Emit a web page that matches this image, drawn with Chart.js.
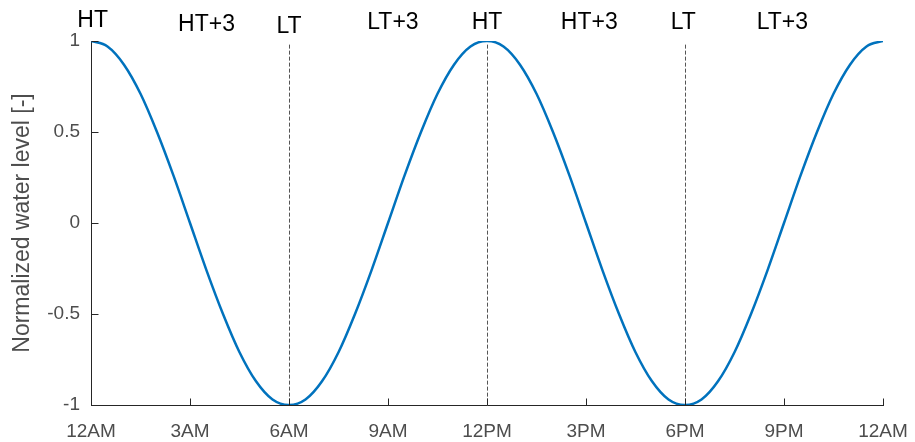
<!DOCTYPE html>
<html>
<head>
<meta charset="utf-8">
<script src="https://cdn.jsdelivr.net/npm/chart.js@4/dist/chart.umd.min.js"></script>
<style>
  html, body { margin: 0; padding: 0; background: #fff; }
  #wrap { width: 915px; height: 442px; position: relative; }
</style>
</head>
<body>
<div id="wrap"><canvas id="tideChart"></canvas></div>
<script>
// hours since midnight, half-hour steps
const hours = [
  0, 0.5, 1, 1.5, 2, 2.5, 3, 3.5, 4, 4.5, 5, 5.5,
  6, 6.5, 7, 7.5, 8, 8.5, 9, 9.5, 10, 10.5, 11, 11.5,
  12, 12.5, 13, 13.5, 14, 14.5, 15, 15.5, 16, 16.5, 17, 17.5,
  18, 18.5, 19, 19.5, 20, 20.5, 21, 21.5, 22, 22.5, 23, 23.5, 24
];
const waterLevel = [
  1.00, 0.97, 0.87, 0.71, 0.50, 0.26, 0.00, -0.26, -0.50, -0.71, -0.87, -0.97,
  -1.00, -0.97, -0.87, -0.71, -0.50, -0.26, 0.00, 0.26, 0.50, 0.71, 0.87, 0.97,
  1.00, 0.97, 0.87, 0.71, 0.50, 0.26, 0.00, -0.26, -0.50, -0.71, -0.87, -0.97,
  -1.00, -0.97, -0.87, -0.71, -0.50, -0.26, 0.00, 0.26, 0.50, 0.71, 0.87, 0.97, 1.00
];
const xTickLabels = ["12AM", "3AM", "6AM", "9AM", "12PM", "3PM", "6PM", "9PM", "12AM"];
const yTicks = [-1, -0.5, 0, 0.5, 1];

// tide phase labels along the top
const tideLabels = ["HT", "HT+3", "LT", "LT+3", "HT", "HT+3", "LT", "LT+3"];
const tideLabelHours = [0.05, 3.5, 6.0, 9.15, 12.0, 15.1, 17.95, 20.95];
const tideLabelLevels = [1.11, 1.09, 1.08, 1.10, 1.10, 1.10, 1.10, 1.10];

// dashed markers at low / high tide
const markerHours = [6, 12, 18];

const AXIS = "#262626";
const TICK_TEXT = "#4d4d4d";
const FONT = "'Liberation Sans', Arial, sans-serif";

const matlabAxes = {
  id: "matlabAxes",
  beforeDatasetsDraw(chart) {
    const { ctx, scales: { x, y } } = chart;
    ctx.save();
    ctx.strokeStyle = "#555";
    ctx.lineWidth = 1;
    ctx.setLineDash([4, 2]);
    markerHours.forEach((h) => {
      const px = Math.round(x.getPixelForValue(h)) + 0.5;
      ctx.beginPath();
      ctx.moveTo(px, y.getPixelForValue(0.98));
      ctx.lineTo(px, y.getPixelForValue(-1));
      ctx.stroke();
    });
    ctx.restore();
  },
  afterDraw(chart) {
    const { ctx, scales: { x, y } } = chart;
    ctx.save();
    // inward tick marks
    ctx.strokeStyle = AXIS;
    ctx.lineWidth = 1;
    const bottom = Math.round(y.getPixelForValue(-1)) + 0.5;
    const left = Math.round(x.getPixelForValue(0)) + 0.5;
    x.ticks.forEach((t) => {
      const px = Math.round(x.getPixelForValue(t.value)) + 0.5;
      ctx.beginPath();
      ctx.moveTo(px, bottom);
      ctx.lineTo(px, bottom - 7);
      ctx.stroke();
    });
    y.ticks.forEach((t) => {
      const py = Math.round(y.getPixelForValue(t.value)) + 0.5;
      ctx.beginPath();
      ctx.moveTo(left, py);
      ctx.lineTo(left + 7, py);
      ctx.stroke();
    });
    // phase labels
    ctx.fillStyle = "#000";
    ctx.font = "23px " + FONT;
    ctx.textAlign = "center";
    ctx.textBaseline = "middle";
    tideLabels.forEach((txt, i) => {
      ctx.fillText(txt, x.getPixelForValue(tideLabelHours[i]), y.getPixelForValue(tideLabelLevels[i]));
    });
    ctx.restore();
  }
};

new Chart(document.getElementById("tideChart"), {
  type: "line",
  data: {
    datasets: [{
      data: hours.map((h, i) => ({ x: h, y: waterLevel[i] })),
      borderColor: "#0072BD",
      borderWidth: 2.5,
      pointRadius: 0,
      cubicInterpolationMode: "monotone",
      fill: false
    }]
  },
  options: {
    responsive: true,
    maintainAspectRatio: false,
    animation: false,
    layout: { padding: { top: 41, right: 32, left: 0, bottom: 0 } },
    plugins: { legend: { display: false }, tooltip: { enabled: false } },
    scales: {
      x: {
        type: "linear",
        min: 0,
        max: 24,
        afterBuildTicks: (s) => { s.ticks = xTickLabels.map((_, i) => ({ value: i * 3 })); },
        afterFit: (s) => {
          s.height = 37;
          s.paddingLeft = 0;
          s.paddingRight = 0;
        },
        ticks: {
          color: TICK_TEXT,
          font: { family: FONT, size: 19 },
          padding: 15,
          maxRotation: 0,
          autoSkip: false,
          callback: (v) => xTickLabels[v / 3]
        },
        grid: { display: false, drawTicks: false },
        border: { display: true, color: AXIS, width: 1 }
      },
      y: {
        min: -1,
        max: 1,
        afterBuildTicks: (s) => { s.ticks = yTicks.map((v) => ({ value: v })); },
        afterFit: (s) => {
          s.width = 91;
          s.paddingTop = 0;
          s.paddingBottom = 0;
        },
        ticks: {
          color: TICK_TEXT,
          font: { family: FONT, size: 19 },
          padding: 11,
          callback: (v) => String(v)
        },
        title: {
          display: true,
          text: "Normalized water level [-]",
          color: TICK_TEXT,
          font: { family: FONT, size: 23 },
          padding: { top: 9, bottom: 0 }
        },
        grid: { display: false, drawTicks: false },
        border: { display: true, color: AXIS, width: 1 }
      }
    }
  },
  plugins: [matlabAxes]
});
</script>
</body>
</html>
